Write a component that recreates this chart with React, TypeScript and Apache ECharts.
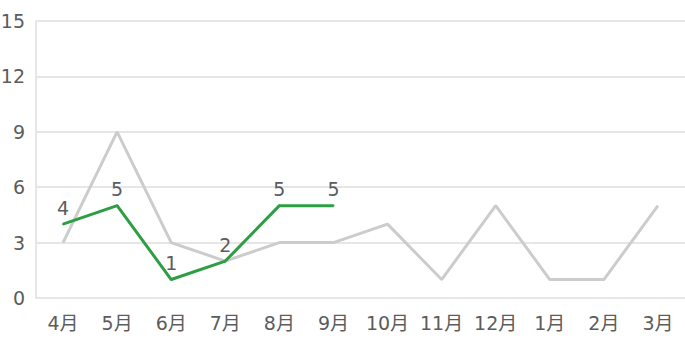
import React, { useEffect, useRef } from "react";
import * as echarts from "echarts";

const months = ["4月", "5月", "6月", "7月", "8月", "9月", "10月", "11月", "12月", "1月", "2月", "3月"];
const prevYear = [3, 9, 3, 2, 3, 3, 4, 1, 5, 1, 1, 5];
const thisYear = [4, 5, 1, 2, 5, 5];
const yMin = 0;
const yMax = 15;
const yInterval = 3;

const FONT = "'DejaVu Sans', 'Noto Sans CJK JP', sans-serif";

export default function App() {
  const ref = useRef<HTMLDivElement>(null);
  useEffect(() => {
    if (!ref.current) return;
    const chart = echarts.init(ref.current, undefined, { renderer: "svg" });
    chart.setOption({
      animation: false,
      grid: { left: 36, right: 0, top: 21, bottom: 54, containLabel: false, outerBoundsMode: "none" },
      xAxis: {
        type: "category",
        data: months,
        boundaryGap: true,
        axisLine: { show: true, lineStyle: { color: "#e6e6e6", width: 2 } },
        axisTick: { show: false },
        axisLabel: { color: "#5c5c5c", fontSize: 19, fontFamily: FONT, margin: 15, interval: 0, hideOverlap: false },
        splitLine: { show: false },
      },
      yAxis: {
        type: "value",
        min: yMin,
        max: yMax,
        interval: yInterval,
        axisLine: { show: true, lineStyle: { color: "#e6e6e6", width: 2 } },
        axisTick: { show: false },
        axisLabel: { color: "#5c5c5c", fontSize: 19, fontFamily: FONT, margin: 11, padding: [7, 0, 0, 0] },
        splitLine: { show: true, lineStyle: { color: "#e6e6e6", width: 2 } },
      },
      series: [
        {
          type: "line",
          data: prevYear,
          symbol: "none",
          lineStyle: { color: "#cccccc", width: 3 },
          z: 1,
        },
        {
          type: "line",
          data: thisYear,
          symbol: "circle",
          symbolSize: 2,
          showSymbol: true,
          itemStyle: { color: "#2e9e44" },
          lineStyle: { color: "#2e9e44", width: 3 },
          label: { show: true, position: "top", color: "#5c5c5c", fontSize: 19, fontFamily: FONT, distance: 6 },
          z: 2,
        },
      ],
    });
    return () => chart.dispose();
  }, []);
  return <div ref={ref} style={{ width: 685, height: 352, position: "absolute", left: 0, top: 0 }} />;
}
